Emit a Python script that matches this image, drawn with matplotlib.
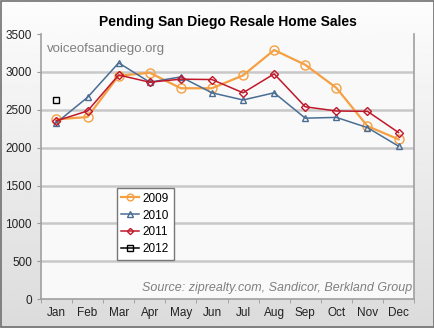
import numpy as np
import matplotlib.pyplot as plt
from matplotlib.patches import Rectangle

plt.rcParams['font.family'] = ['Liberation Sans', 'DejaVu Sans']

months = ["Jan", "Feb", "Mar", "Apr", "May", "Jun", "Jul", "Aug", "Sep", "Oct", "Nov", "Dec"]
sales_2009 = [2375, 2405, 2950, 2990, 2785, 2785, 2955, 3290, 3095, 2790, 2285, 2110]
sales_2010 = [2330, 2665, 3120, 2865, 2935, 2725, 2630, 2725, 2390, 2400, 2265, 2020]
sales_2011 = [2355, 2485, 2960, 2865, 2905, 2900, 2725, 2975, 2540, 2485, 2480, 2200]
sales_2012 = [2625]

fig = plt.figure(figsize=(4.35, 3.28), dpi=100)

# grey gradient background
bg = fig.add_axes([0, 0, 1, 1], zorder=-10)
grad = np.linspace(0.99, 0.86, 256).reshape(-1, 1)
bg.imshow(grad, aspect='auto', cmap='gray', vmin=0, vmax=1, extent=[0, 1, 0, 1])
bg.add_patch(Rectangle((0.002, 0.003), 0.995, 0.993, fill=False, edgecolor='#707070', lw=1.2,
                       transform=bg.transAxes))
bg.axis('off')

ax = fig.add_axes([0.094, 0.088, 0.858, 0.808])
ax.set_facecolor('#f9f9f9')
x = np.arange(len(months))

for y in range(500, 3500, 500):
    ax.axhline(y, color='#c8c8c8', lw=1.8, zorder=1)

ax.plot(x, sales_2009, color='#f4a043', lw=1.6, marker='o', ms=6.5, mfc='none', mew=1.0, label='2009', zorder=3)
ax.plot(x, sales_2010, color='#4a6d94', lw=1.1, marker='^', ms=5, mfc='none', mew=1.0, label='2010', zorder=4)
ax.plot(x, sales_2011, color='#c0182a', lw=1.1, marker='D', ms=4.2, mfc='none', mew=1.0, label='2011', zorder=5)
ax.plot(x[:len(sales_2012)], sales_2012, color='black', lw=1.1, marker='s', ms=5, mfc='none', mew=1.0,
        label='2012', zorder=6)

ax.set_xlim(-0.5, 11.5)
ax.set_ylim(0, 3500)
ax.set_xticks(x)
ax.set_xticklabels(months)
ax.set_xticks(np.arange(-0.5, 12, 1), minor=True)
ax.set_yticks(range(0, 3501, 500))
ax.tick_params(axis='x', which='major', length=0, pad=6, labelsize=8.5, colors='#222222')
ax.tick_params(axis='x', which='minor', length=3, color='#999999')
ax.tick_params(axis='y', length=3, color='#999999', labelsize=8.5, colors='#222222')
for s in ax.spines.values():
    s.set_color('#a0a0a0')
    s.set_linewidth(1.2)
ax.spines['top'].set_visible(False)

ax.set_title('Pending San Diego Resale Home Sales', fontsize=10, fontweight='bold', pad=6)
ax.text(0.015, 0.965, 'voiceofsandiego.org', transform=ax.transAxes, fontsize=9.5, color='#808080',
        va='top', ha='left')
ax.text(0.995, 0.02, 'Source: ziprealty.com, Sandicor, Berkland Group', transform=ax.transAxes,
        fontsize=9, style='italic', color='#808080', ha='right', va='bottom')

leg = ax.legend(loc='upper left', bbox_to_anchor=(0.203, 0.42), fontsize=8.5, frameon=True, fancybox=False,
                handlelength=1.5, handletextpad=0.3, borderpad=0.4, labelspacing=0.42, markerscale=0.75,
                borderaxespad=0)
leg.get_frame().set_edgecolor('#777777')
leg.get_frame().set_facecolor('white')
leg.get_frame().set_alpha(1)

fig.savefig('out.png', dpi=100)
